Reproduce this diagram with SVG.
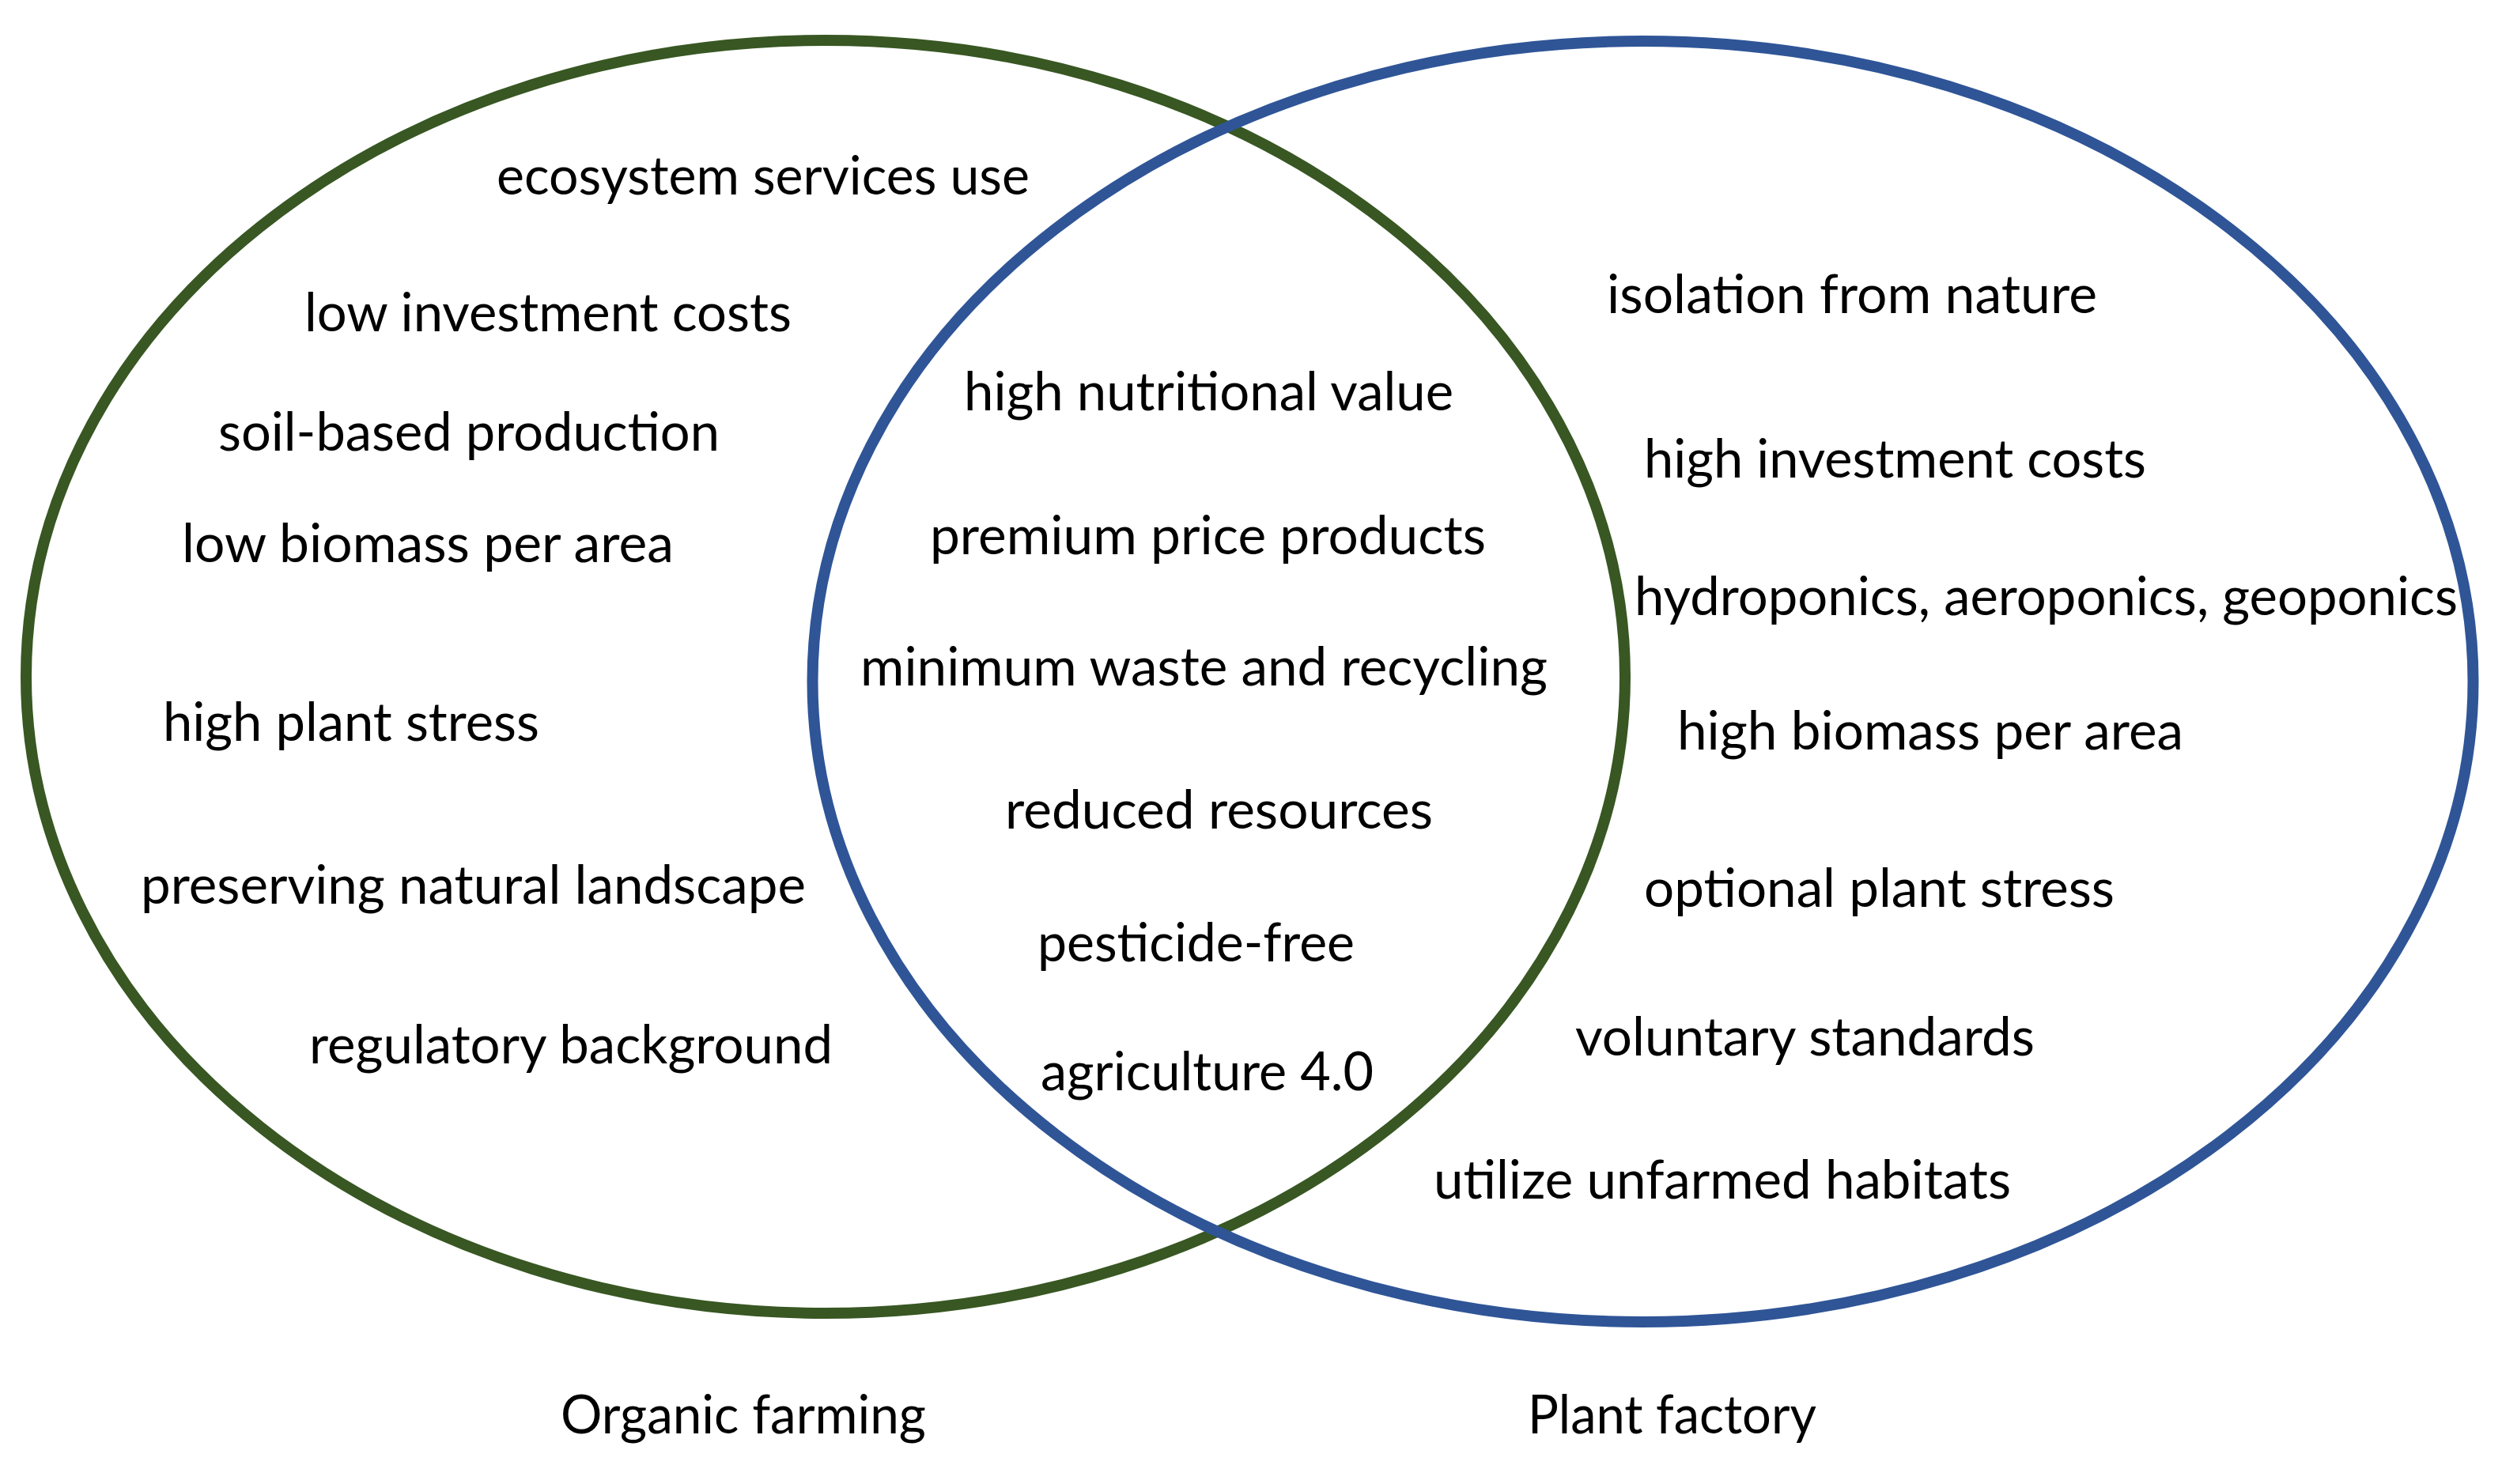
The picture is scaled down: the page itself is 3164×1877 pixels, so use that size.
<svg xmlns="http://www.w3.org/2000/svg" width="3164" height="1877" viewBox="0 0 3164 1877">
<style>
.bg{fill:#ffffff}
.ell{fill:none;stroke-width:14}
.org{stroke:#385723}
.pf{stroke:#2F5597}
text{font-family:Lato,"Open Sans","Liberation Sans",sans-serif;font-size:67px;fill:#000000}
</style>
<rect class="bg" x="0" y="0" width="3164" height="1877"/>
<g id="connectors"></g>
<g id="organic-farming">
<ellipse class="ell org" cx="1044" cy="856" rx="1011" ry="805"/>
</g>
<g id="plant-factory">
<ellipse class="ell pf" cx="2077.5" cy="862" rx="1050" ry="810"/>
</g>
<g id="organic-items">
<text x="628" y="246" textLength="674" lengthAdjust="spacingAndGlyphs">ecosystem services use</text>
<text x="385" y="419" textLength="616" lengthAdjust="spacingAndGlyphs">low investment costs</text>
<text x="276" y="570" textLength="634" lengthAdjust="spacingAndGlyphs">soil-based production</text>
<text x="230" y="711" textLength="622" lengthAdjust="spacingAndGlyphs">low biomass per area</text>
<text x="206" y="937" textLength="476" lengthAdjust="spacingAndGlyphs">high plant stress</text>
<text x="178" y="1143" textLength="841" lengthAdjust="spacingAndGlyphs">preserving natural landscape</text>
<text x="391" y="1345" textLength="662" lengthAdjust="spacingAndGlyphs">regulatory background</text>
</g>
<g id="shared-items">
<text x="1219" y="519" textLength="619" lengthAdjust="spacingAndGlyphs">high nutritional value</text>
<text x="1176" y="701" textLength="703" lengthAdjust="spacingAndGlyphs">premium price products</text>
<text x="1088" y="867" textLength="869" lengthAdjust="spacingAndGlyphs">minimum waste and recycling</text>
<text x="1271" y="1048" textLength="541" lengthAdjust="spacingAndGlyphs">reduced resources</text>
<text x="1312" y="1216" textLength="401" lengthAdjust="spacingAndGlyphs">pesticide-free</text>
<text x="1316" y="1379" textLength="421" lengthAdjust="spacingAndGlyphs">agriculture 4.0</text>
</g>
<g id="plant-factory-items">
<text x="2032" y="396" textLength="620" lengthAdjust="spacingAndGlyphs">isolation from nature</text>
<text x="2079" y="604" textLength="635" lengthAdjust="spacingAndGlyphs">high investment costs</text>
<text x="2067" y="778" textLength="1041" lengthAdjust="spacingAndGlyphs">hydroponics, aeroponics, geoponics</text>
<text x="2121" y="948" textLength="640" lengthAdjust="spacingAndGlyphs">high biomass per area</text>
<text x="2079" y="1147" textLength="595" lengthAdjust="spacingAndGlyphs">optional plant stress</text>
<text x="1992" y="1335" textLength="581" lengthAdjust="spacingAndGlyphs">voluntary standards</text>
<text x="1813" y="1516" textLength="730" lengthAdjust="spacingAndGlyphs">utilize unfarmed habitats</text>
</g>
<g id="labels">
<text x="709" y="1813" textLength="462" lengthAdjust="spacingAndGlyphs">Organic farming</text>
<text x="1932" y="1813" textLength="365" lengthAdjust="spacingAndGlyphs">Plant factory</text>
</g>
</svg>
